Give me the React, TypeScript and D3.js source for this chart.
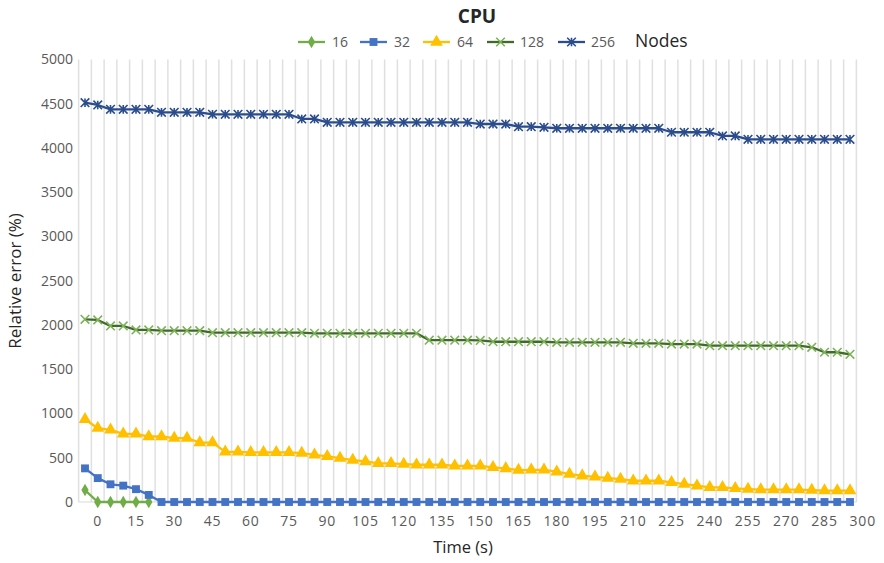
import React, { useEffect, useRef } from "react";
import * as d3 from "d3";

// Sampling step of the recorded runs (seconds) and sample count
const TIME_STEP = 5;
const SAMPLE_COUNT = 61;

// Axis ticks
const X_TICKS = d3.range(0, 301, 15);
const Y_TICKS = d3.range(0, 5001, 500);

// Relative error (%) per sample, one array per node count
const nodes16 = [135, 0, 0, 0, 0, 0];

const nodes32 = [
  380, 270, 200, 185, 145, 80, 0, 0, 0, 0,
  0, 0, 0, 0, 0, 0, 0, 0, 0, 0,
  0, 0, 0, 0, 0, 0, 0, 0, 0, 0,
  0, 0, 0, 0, 0, 0, 0, 0, 0, 0,
  0, 0, 0, 0, 0, 0, 0, 0, 0, 0,
  0, 0, 0, 0, 0, 0, 0, 0, 0, 0,
  0,
];

const nodes64 = [
  935, 834, 815, 770, 770, 740, 740, 721, 721, 672,
  672, 567, 567, 560, 560, 560, 560, 552, 533, 515,
  496, 473, 458, 436, 436, 428, 421, 421, 421, 409,
  409, 409, 391, 379, 361, 364, 364, 342, 316, 297,
  285, 270, 259, 240, 240, 240, 222, 203, 184, 165,
  165, 154, 146, 139, 139, 139, 139, 135, 128, 128,
  128,
];

const nodes128 = [
  2064, 2057, 1989, 1989, 1944, 1944, 1936, 1936, 1936, 1936,
  1913, 1913, 1913, 1913, 1913, 1913, 1913, 1913, 1906, 1906,
  1906, 1906, 1906, 1906, 1906, 1906, 1906, 1828, 1828, 1828,
  1828, 1826, 1811, 1811, 1811, 1811, 1811, 1804, 1804, 1804,
  1804, 1804, 1804, 1793, 1793, 1793, 1785, 1785, 1785, 1766,
  1766, 1766, 1766, 1766, 1766, 1766, 1766, 1748, 1692, 1692,
  1669,
];

const nodes256 = [
  4512, 4486, 4437, 4437, 4437, 4437, 4403, 4403, 4403, 4403,
  4381, 4381, 4381, 4381, 4381, 4381, 4381, 4328, 4328, 4290,
  4290, 4290, 4290, 4290, 4290, 4290, 4290, 4290, 4290, 4290,
  4290, 4271, 4271, 4271, 4241, 4241, 4234, 4223, 4223, 4223,
  4223, 4223, 4223, 4223, 4223, 4223, 4178, 4178, 4178, 4178,
  4136, 4136, 4098, 4098, 4098, 4098, 4098, 4098, 4098, 4098,
  4098,
];

type MarkerKind = "diamond" | "square" | "triangle" | "cross" | "star";

interface Series {
  label: string;
  values: number[];
  line: string;
  marker: string;
  kind: MarkerKind;
}

const SERIES: Series[] = [
  { label: "16", values: nodes16, line: "#70ad47", marker: "#70ad47", kind: "diamond" },
  { label: "32", values: nodes32, line: "#4472c4", marker: "#4472c4", kind: "square" },
  { label: "64", values: nodes64, line: "#ffc000", marker: "#ffc000", kind: "triangle" },
  { label: "128", values: nodes128, line: "#43682b", marker: "#7cb35a", kind: "cross" },
  { label: "256", values: nodes256, line: "#2b4d8c", marker: "#2b4d8c", kind: "star" },
];

const W = 884;
const H = 563;
const FONT = "'Open Sans', 'Liberation Sans', sans-serif";

function drawMarker(
  g: d3.Selection<SVGGElement, unknown, null, undefined>,
  kind: MarkerKind,
  x: number,
  y: number,
  color: string
) {
  if (kind === "diamond") {
    g.append("path")
      .attr("d", d3.symbol(d3.symbolDiamond, 46)())
      .attr("transform", `translate(${x},${y})`)
      .attr("fill", color);
  } else if (kind === "square") {
    g.append("path")
      .attr("d", d3.symbol(d3.symbolSquare, 62)())
      .attr("transform", `translate(${x},${y})`)
      .attr("fill", color);
  } else if (kind === "triangle") {
    g.append("path")
      .attr("d", d3.symbol(d3.symbolTriangle, 70)())
      .attr("transform", `translate(${x},${y})`)
      .attr("fill", color);
  } else {
    const r = 4.3;
    const p = d3.path();
    p.moveTo(x - r, y - r);
    p.lineTo(x + r, y + r);
    p.moveTo(x - r, y + r);
    p.lineTo(x + r, y - r);
    if (kind === "star") {
      p.moveTo(x, y - r);
      p.lineTo(x, y + r);
    }
    g.append("path")
      .attr("d", p.toString())
      .attr("fill", "none")
      .attr("stroke", color)
      .attr("stroke-width", 1.6);
  }
}

export default function App() {
  const ref = useRef<SVGSVGElement>(null);

  useEffect(() => {
    const svg = d3.select(ref.current);
    svg.selectAll("*").remove();

    // Category index scale: sample i sits on category i; the label for time t
    // sits one category to the right (t / TIME_STEP + 1)
    const x = d3.scaleLinear().domain([0, SAMPLE_COUNT - 1]).range([85, 850]);
    const y = d3.scaleLinear().domain([0, 5000]).range([502, 59.5]);

    const root = svg.append("g");

    // Vertical gridlines between categories
    const grid = root.append("g");
    d3.range(-0.5, SAMPLE_COUNT, 1).forEach((c) => {
      grid
        .append("line")
        .attr("x1", x(c))
        .attr("x2", x(c))
        .attr("y1", y(5000))
        .attr("y2", y(0))
        .attr("stroke", "#e0e0e0")
        .attr("stroke-width", 1.5);
    });
    grid
      .append("line")
      .attr("x1", x(-0.5))
      .attr("x2", x(SAMPLE_COUNT - 0.5))
      .attr("y1", y(0))
      .attr("y2", y(0))
      .attr("stroke", "#d9d9d9")
      .attr("stroke-width", 1);

    // Y tick labels
    const yAxis = root.append("g");
    Y_TICKS.forEach((v) => {
      yAxis
        .append("text")
        .attr("x", 73)
        .attr("y", y(v))
        .attr("dy", "0.35em")
        .attr("text-anchor", "end")
        .attr("font-family", FONT)
        .attr("font-size", 14)
        .attr("fill", "#595959")
        .text(String(v));
    });

    // X tick labels
    const xAxis = root.append("g");
    X_TICKS.forEach((t) => {
      xAxis
        .append("text")
        .attr("x", x(t / TIME_STEP + 1))
        .attr("y", 521)
        .attr("dy", "0.35em")
        .attr("text-anchor", "middle")
        .attr("font-family", FONT)
        .attr("font-size", 14)
        .attr("letter-spacing", 0.8)
        .attr("fill", "#595959")
        .text(String(t));
    });

    // Axis titles
    root
      .append("text")
      .attr("x", 463)
      .attr("y", 547)
      .attr("dy", "0.35em")
      .attr("text-anchor", "middle")
      .attr("font-family", FONT)
      .attr("font-size", 16.5)
      .attr("fill", "#262626")
      .text("Time (s)");
    root
      .append("text")
      .attr("transform", `translate(15,281) rotate(-90)`)
      .attr("dy", "0.35em")
      .attr("text-anchor", "middle")
      .attr("font-family", FONT)
      .attr("font-size", 17)
      .attr("fill", "#262626")
      .text("Relative error (%)");

    // Chart title
    root
      .append("text")
      .attr("x", 477)
      .attr("y", 16)
      .attr("dy", "0.35em")
      .attr("text-anchor", "middle")
      .attr("font-family", FONT)
      .attr("font-size", 19)
      .attr("font-weight", "bold")
      .attr("fill", "#262626")
      .text("CPU");

    // Series lines and markers
    const lineGen = d3
      .line<number>()
      .x((_, i) => x(i))
      .y((v) => y(v));

    SERIES.forEach((s) => {
      const g = root.append("g");
      g.append("path")
        .attr("d", lineGen(s.values))
        .attr("fill", "none")
        .attr("stroke", s.line)
        .attr("stroke-width", 2.3)
        .attr("stroke-linejoin", "round");
      s.values.forEach((v, i) => drawMarker(g, s.kind, x(i), y(v), s.marker));
    });

    // Legend
    const legend = root.append("g");
    const legendY = 42;
    const legendItems = [
      { x0: 298, tx: 332 },
      { x0: 360, tx: 394 },
      { x0: 423, tx: 457 },
      { x0: 487, tx: 520 },
      { x0: 558, tx: 591 },
    ];
    SERIES.forEach((s, i) => {
      const it = legendItems[i];
      legend
        .append("line")
        .attr("x1", it.x0)
        .attr("x2", it.x0 + 27)
        .attr("y1", legendY)
        .attr("y2", legendY)
        .attr("stroke", s.line)
        .attr("stroke-width", 2.3);
      drawMarker(legend, s.kind, it.x0 + 13.5, legendY, s.marker);
      legend
        .append("text")
        .attr("x", it.tx)
        .attr("y", legendY)
        .attr("dy", "0.35em")
        .attr("font-family", FONT)
        .attr("font-size", 14)
        .attr("fill", "#595959")
        .text(s.label);
    });
    legend
      .append("text")
      .attr("x", 635)
      .attr("y", legendY - 1)
      .attr("dy", "0.35em")
      .attr("font-family", FONT)
      .attr("font-size", 17.5)
      .attr("fill", "#262626")
      .text("Nodes");
  }, []);

  return (
    <svg
      ref={ref}
      width={W}
      height={H}
      style={{ position: "absolute", left: 0, top: 0, background: "#ffffff" }}
    />
  );
}
